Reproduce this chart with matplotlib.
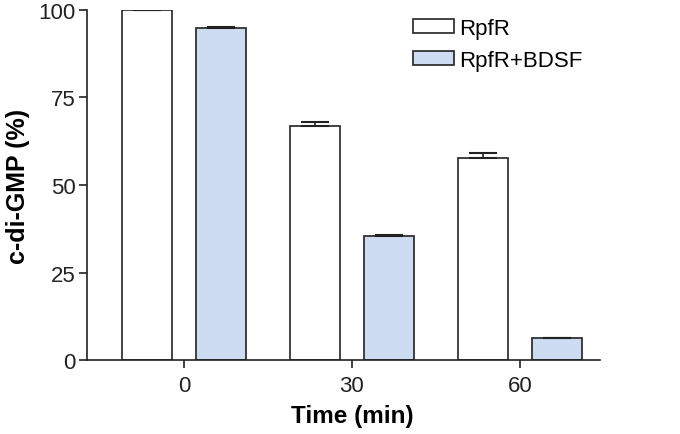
import matplotlib
matplotlib.use("Agg")
import matplotlib.pyplot as plt
import numpy as np

plt.rcParams['font.family'] = ['Liberation Sans', 'DejaVu Sans']

categories = ["0", "30", "60"]
rpfr = [100.0, 66.7, 57.8]
rpfr_err = [0.0, 1.2, 1.3]
bdsf = [94.8, 35.5, 6.3]
bdsf_err = [0.3, 0.3, 0.0]
yticks = [0, 25, 50, 75, 100]

fig = plt.figure(figsize=(6.8, 4.35), dpi=100)
ax = fig.add_axes([0.128, 0.170, 0.754, 0.805])

x = np.arange(len(categories))
w = 0.298
off = 0.22
ekw = dict(elinewidth=1.2, capthick=1.5, ecolor='#222222')
ax.bar(x - off, rpfr, w, yerr=[np.zeros(len(rpfr_err)), rpfr_err], color='white',
       edgecolor='#222222', linewidth=1.2, capsize=10, error_kw=ekw, label='RpfR')
ax.bar(x + off, bdsf, w, yerr=[np.zeros(len(bdsf_err)), bdsf_err], color='#cddcf3',
       edgecolor='#222222', linewidth=1.2, capsize=10, error_kw=ekw, label='RpfR+BDSF')

ax.set_xlim(-0.577, 2.476)
ax.set_ylim(0, 100)
ax.set_xticks(x)
ax.set_xticklabels(categories)
ax.set_yticks(yticks)
for s in ['top', 'right']:
    ax.spines[s].set_visible(False)
for s in ['left', 'bottom']:
    ax.spines[s].set_linewidth(1.2)
    ax.spines[s].set_color('#222222')
ax.tick_params(axis='both', direction='out', length=6, width=1.2, labelsize=16,
               colors='#222222')
ax.tick_params(axis='y', pad=2)
ax.tick_params(axis='x', pad=5)
ax.set_xlabel('Time (min)', fontsize=17.5, fontweight='bold', labelpad=6)
ax.set_ylabel('c-di-GMP (%)', fontsize=18, fontweight='bold', labelpad=6)
ax.xaxis.set_label_coords(0.517, -0.125)

leg = ax.legend(loc='upper left', bbox_to_anchor=(0.635, 0.977), frameon=False,
                fontsize=16, handlelength=1.85, handleheight=0.63, handletextpad=0.25,
                labelspacing=0.5, borderpad=0, borderaxespad=0)

fig.savefig('out.png', dpi=100)
